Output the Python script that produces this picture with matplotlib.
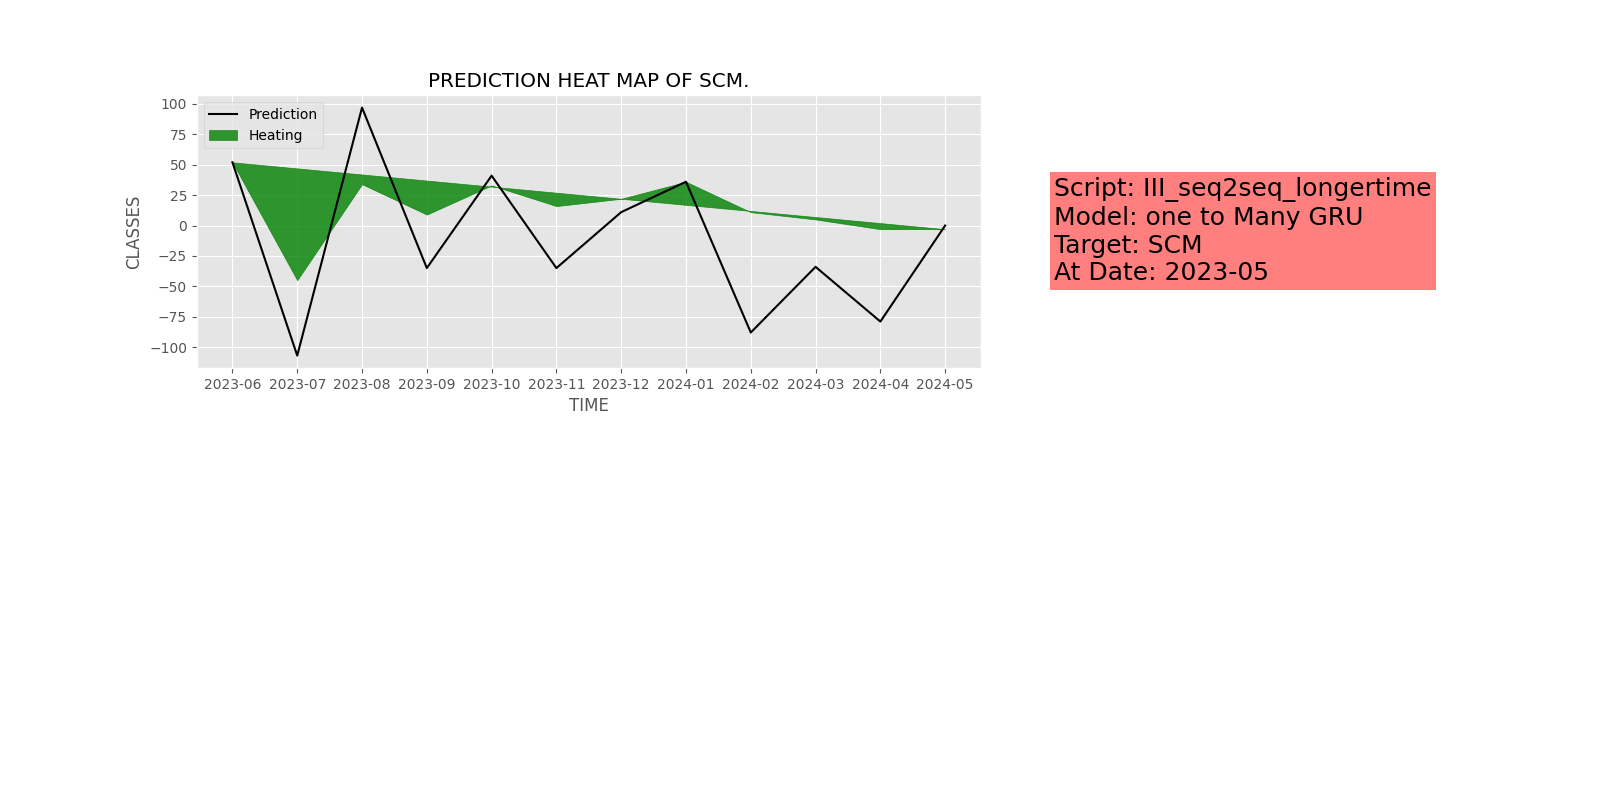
import matplotlib
matplotlib.use("Agg")
import matplotlib.pyplot as plt
import numpy as np

plt.style.use("ggplot")

months = ["2023-06","2023-07","2023-08","2023-09","2023-10","2023-11","2023-12",
          "2024-01","2024-02","2024-03","2024-04","2024-05"]
prediction = [52, -107, 97, -35, 41, -35, 11, 36, -88, -34, -79, 0]
trend = list(np.linspace(52, -3, 12))
heating_low = [52, -45, 34, 9, 33, 16, 22, 36, 11, 5, -3, -3]

fig = plt.figure(figsize=(16, 8), dpi=100)
ax = fig.add_axes([0.123, 0.54, 0.49, 0.341])
x = np.arange(len(months))
ax.plot(x, prediction, color="black", label="Prediction")
ax.fill_between(x, trend, heating_low, color="green", alpha=0.8, label="Heating")
ax.set_xticks(x)
ax.set_xticklabels(months)
ax.set_title("PREDICTION HEAT MAP OF SCM.")
ax.set_xlabel("TIME")
ax.set_ylabel("CLASSES")
ax.legend(loc="upper left")

fig.text(0.659, 0.711, "Script: III_seq2seq_longertime\nModel: one to Many GRU\nTarget: SCM\nAt Date: 2023-05",
         fontsize=18, va="center", ha="left",
         bbox=dict(facecolor="red", alpha=0.5, edgecolor="none", pad=3))
fig.savefig("out.png")
